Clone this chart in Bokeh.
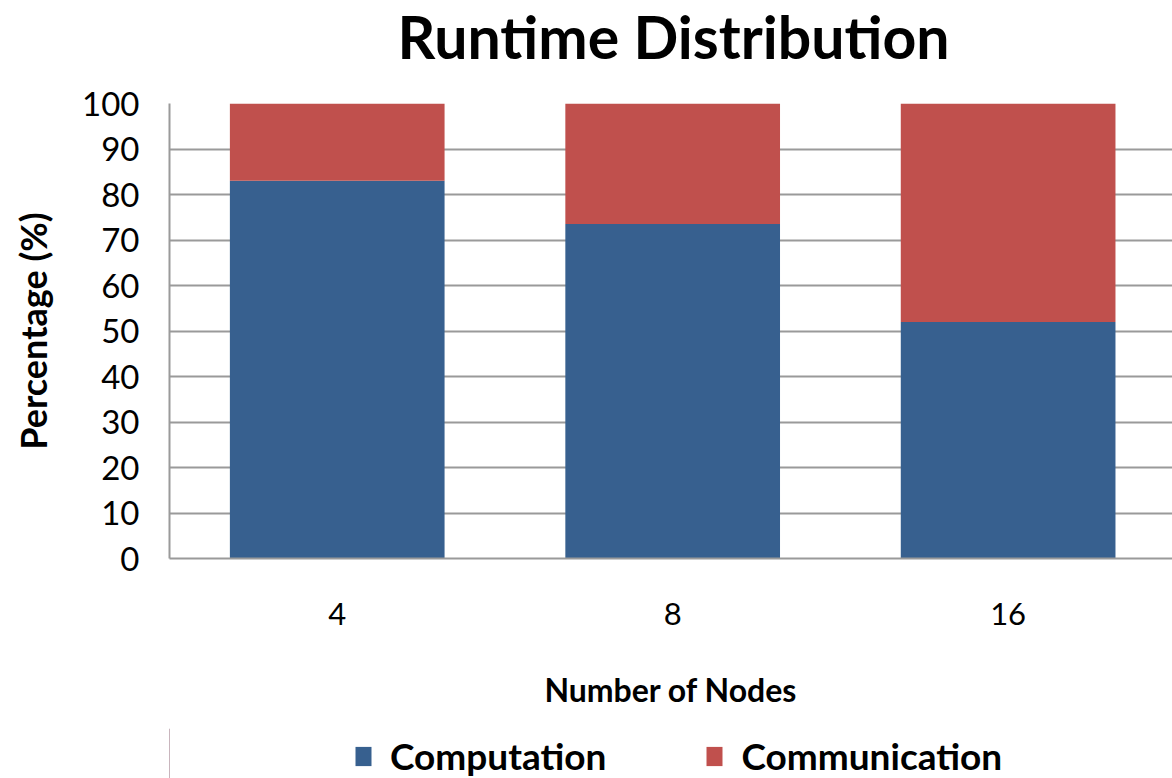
from bokeh.plotting import figure
from bokeh.models import Range1d, FixedTicker, Legend, LegendItem, ColumnDataSource, Label
from bokeh.layouts import column
from bokeh.embed import file_html
from bokeh.resources import INLINE

title_text = "Runtime Distribution"
categories = ["4", "8", "16"]
computation = [83.0, 73.5, 52.0]
communication = [17.0, 26.5, 48.0]
series_names = ["Computation", "Communication"]
y_ticks = [0, 10, 20, 30, 40, 50, 60, 70, 80, 90, 100]

BLUE = "#37608F"
RED = "#C0504D"
GRID = "#9A9A9A"
FONT = "Lato"
W = 1172
LEFT = 169

# ---------- title strip ----------
pt = figure(width=W, height=70, output_backend="svg", toolbar_location=None,
            x_range=Range1d(0, 1), y_range=Range1d(0, 1),
            x_axis_type=None, y_axis_type=None, min_border=0)
pt.outline_line_color = None
pt.background_fill_alpha = 0
pt.border_fill_color = "white"
pt.add_layout(Label(x=673 - LEFT, y=34, x_units="screen", y_units="screen", text=title_text,
                    text_font=FONT, text_font_size="59px", text_font_style="bold",
                    text_align="center", text_baseline="middle", text_color="#000000"))

# ---------- main chart ----------
xs = list(range(len(categories)))
src = ColumnDataSource(dict(x=xs, cat=categories, computation=computation, communication=communication))

p = figure(width=W, height=658, output_backend="svg", toolbar_location=None,
           x_range=Range1d(-0.5, 2.49), y_range=Range1d(0, 100),
           min_border_left=LEFT, min_border_right=0, min_border_top=33, min_border_bottom=170)
p.outline_line_color = None

p.vbar_stack(["computation", "communication"], x="x", width=0.64, source=src,
             color=[BLUE, RED], line_color=None)

p.xaxis.ticker = FixedTicker(ticks=xs)
p.xaxis.major_label_overrides = {i: c for i, c in enumerate(categories)}
p.yaxis.ticker = FixedTicker(ticks=y_ticks)
for ax in (p.xaxis[0], p.yaxis[0]):
    ax.axis_line_color = GRID
    ax.axis_line_width = 2
    ax.major_tick_line_color = None
    ax.minor_tick_line_color = None
    ax.major_tick_out = 0
    ax.major_tick_in = 0
    ax.major_label_text_font = FONT
    ax.major_label_text_color = "#000000"
    ax.axis_label_text_font = FONT
    ax.axis_label_text_font_style = "bold"
    ax.axis_label_text_color = "#000000"

p.xaxis.major_label_text_font_size = "31px"
p.xaxis.major_label_standoff = 44
p.xaxis.axis_label = "Number of Nodes"
p.xaxis.axis_label_text_font_size = "32px"
p.xaxis.axis_label_standoff = 42

p.yaxis.major_label_text_font_size = "33px"
p.yaxis.major_label_standoff = 30
p.yaxis.axis_label = "Percentage (%)"
p.yaxis.axis_label_text_font_size = "36px"
p.yaxis.axis_label_standoff = 24

p.xgrid.grid_line_color = None
p.ygrid.grid_line_color = GRID
p.ygrid.grid_line_width = 2

# ---------- legend strip ----------
pl = figure(width=W, height=50, output_backend="svg", toolbar_location=None,
            x_range=Range1d(0, 1), y_range=Range1d(0, 1),
            x_axis_type=None, y_axis_type=None, min_border=0)
pl.outline_line_color = None
pl.background_fill_alpha = 0
pl.border_fill_color = "white"
proxy_src = ColumnDataSource(dict(x=[-10], top=[1]))
proxy_blue = pl.vbar(x="x", top="top", width=1, source=proxy_src, fill_color=BLUE, line_color=None)
proxy_red = pl.vbar(x="x", top="top", width=1, source=proxy_src, fill_color=RED, line_color=None)
legend = Legend(items=[LegendItem(label=series_names[0], renderers=[proxy_blue]),
                       LegendItem(label=series_names[1], renderers=[proxy_red])],
                orientation="horizontal", location=(353 - LEFT, 0),
                glyph_width=20, glyph_height=24, label_standoff=17, spacing=98,
                padding=0, margin=0, border_line_color=None, background_fill_alpha=0,
                label_text_font=FONT, label_text_font_size="37px", label_text_font_style="bold",
                label_text_color="#000000")
pl.add_layout(legend, "center")

layout = column(pt, p, pl, spacing=0)
open("out.html", "w").write(file_html(layout, INLINE))
